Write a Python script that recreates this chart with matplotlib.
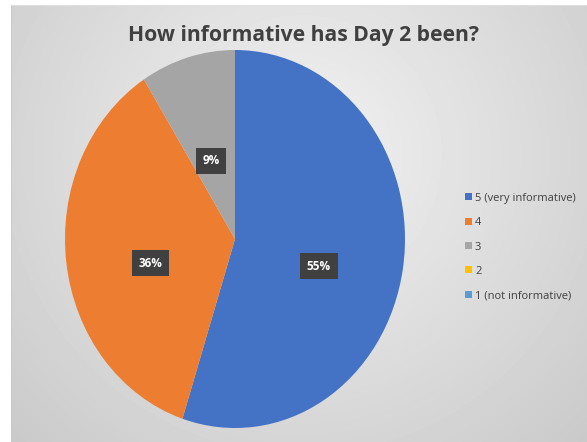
import numpy as np
import matplotlib.pyplot as plt
from matplotlib.patches import Patch

categories = ["5 (very informative)", "4", "3", "2", "1 (not informative)"]
shares = [55, 36, 9, 0, 0]
colors = ["#4472C4", "#ED7D31", "#A5A5A5", "#FFC000", "#5B9BD5"]
title = "How informative has Day 2 been?"

W, H = 587, 442
fig = plt.figure(figsize=(W / 100, H / 100), dpi=100)
fig.patch.set_facecolor("white")

# gradient background of the chart box
bg = fig.add_axes([11 / W, 0, 1 - 11 / W, 1 - 5 / H])
bg.set_axis_off()
yy, xx = np.mgrid[0:437, 0:576]
d = np.sqrt((xx - 290) ** 2 + (yy - 150) ** 2) / 430
d = np.clip(d, 0, 1)
shade = 0.95 - 0.17 * d
bg.imshow(shade, cmap="gray", vmin=0, vmax=1, aspect="auto",
          extent=[0, 1, 0, 1], interpolation="bilinear")
bg.plot([0, 0], [0, 1], color="#c8c8c8", lw=1.2)
bg.plot([0, 1], [1, 1], color="#e0e0e0", lw=1.2)
bg.set_xlim(0, 1)
bg.set_ylim(0, 1)

fig.text(304 / W, 1 - 35 / H, title, ha="center", va="center",
         fontsize=15.2, fontweight="bold", color="#404040", family="Open Sans")

# pie, slightly stretched vertically like the original
cx, cy, rx, ry = 235, 239, 170, 189
ax = fig.add_axes([(cx - rx) / W, 1 - (cy + ry) / H, 2 * rx / W, 2 * ry / H])
wedges, texts, autotexts = ax.pie(
    shares, colors=colors, startangle=90, counterclock=False,
    autopct=lambda p: f"{p:.0f}%" if p > 0 else "", pctdistance=0.5,
    wedgeprops=dict(linewidth=0, edgecolor="none"),
    textprops=dict(color="white", fontsize=8.5, fontweight="bold",
                   family="Open Sans"))
ax.set_aspect("auto")
ax.set_xlim(-1, 1)
ax.set_ylim(-1, 1)
for t in autotexts:
    x, y = t.get_position()
    t.set_position((x, y - 0.065))
    t.set_bbox(dict(boxstyle="square,pad=0.55", fc="#404040", ec="none"))

handles = [Patch(facecolor=c, edgecolor="none") for c in colors]
fig.legend(handles, categories, loc="center left",
           bbox_to_anchor=(455 / W, 1 - 247 / H), frameon=False,
           labelcolor="#404040", handlelength=0.6,
           handleheight=0.6, handletextpad=0.3, labelspacing=1.2,
           prop=dict(family="Open Sans", size=8))

fig.savefig("out.png", dpi=100)
